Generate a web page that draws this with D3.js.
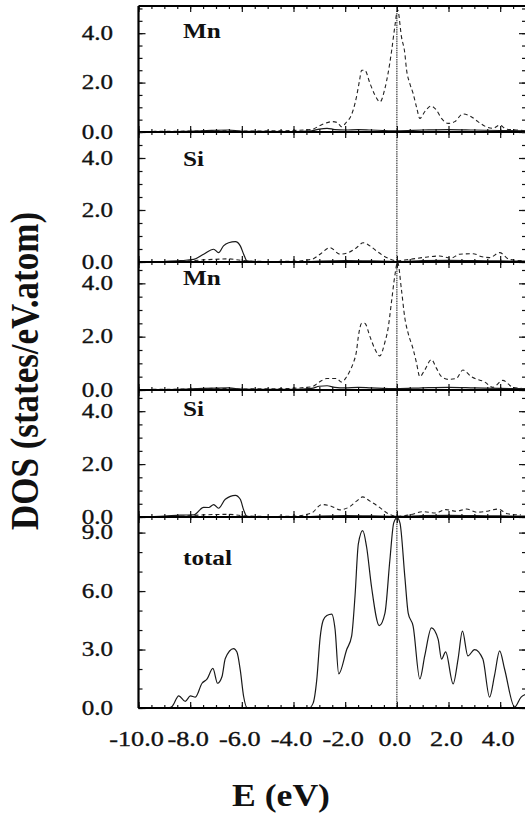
<!DOCTYPE html>
<html>
<head>
<meta charset="utf-8">
<script src="https://cdn.jsdelivr.net/npm/d3@7"></script>
<style>
  body { margin: 0; background: #fff; }
  svg { display: block; }
  text { font-family: "Liberation Serif", "Times New Roman", serif; fill: #111; }
</style>
</head>
<body>
<svg id="chart" width="525" height="818"></svg>
<script>
// ---- data: [E (eV), DOS] ----
const mn1Sp = [[-10,0],[-8.5,0.02],[-7.5,0.05],[-6.5,0.08],[-6,0.03],[-4,0.02],[-3.3,0.05],[-3.0,0.12],[-2.7,0.15],[-2.4,0.1],[-2.0,0.08],[-1.5,0.1],[-1,0.08],[0,0.05],[1,0.08],[2,0.1],[3,0.08],[4,0.06],[5,0.05]];
const mn1D = [[-10,0.02],[-8.5,0.03],[-7,0.05],[-6,0.04],[-4.5,0.05],[-3.3,0.1],[-3.0,0.25],[-2.78,0.35],[-2.5,0.42],[-2.3,0.38],[-2.14,0.21],[-1.95,0.4],[-1.8,0.6],[-1.69,0.89],[-1.56,1.43],[-1.45,2.05],[-1.36,2.5],[-1.24,2.5],[-1.04,1.97],[-0.85,1.5],[-0.65,1.22],[-0.46,1.77],[-0.34,2.37],[-0.2,3.3],[-0.08,4.25],[0.03,4.95],[0.18,3.85],[0.31,3.18],[0.37,2.57],[0.5,1.97],[0.63,1.56],[0.76,1.02],[0.89,0.55],[1.08,0.82],[1.32,1.05],[1.53,0.89],[1.73,0.55],[1.98,0.35],[2.24,0.42],[2.56,0.73],[2.88,0.62],[3.14,0.42],[3.46,0.21],[3.72,0.15],[3.98,0.28],[4.23,0.12],[4.62,0.08],[5,0.05]];

const si1S = [[-10,0],[-9,0.02],[-8.38,0.05],[-7.86,0.1],[-7.48,0.3],[-7.09,0.49],[-6.9,0.36],[-6.71,0.62],[-6.51,0.74],[-6.25,0.78],[-6.06,0.62],[-5.93,0.3],[-5.8,0.04],[-5.5,0.01],[-3.5,0.01],[-3,0.03],[-2,0.05],[-1,0.04],[0,0.02],[1,0.05],[2,0.06],[3,0.05],[4,0.04],[5,0.03]];
const si1P = [[-10,0],[-8.5,0.02],[-7.5,0.08],[-6.5,0.12],[-6,0.06],[-5,0.02],[-4,0.03],[-3.3,0.1],[-2.97,0.3],[-2.59,0.55],[-2.2,0.3],[-1.88,0.36],[-1.56,0.55],[-1.3,0.74],[-1.04,0.62],[-0.78,0.42],[-0.4,0.17],[0,0.05],[0.5,0.1],[1.0,0.17],[1.66,0.23],[2.1,0.15],[2.43,0.3],[2.95,0.32],[3.3,0.2],[3.6,0.17],[3.98,0.36],[4.36,0.1],[4.86,0.05]];

const mn2Sp = [[-10,0],[-8.5,0.02],[-7.5,0.06],[-6.5,0.08],[-6,0.03],[-4,0.02],[-3.3,0.06],[-3.0,0.14],[-2.7,0.16],[-2.4,0.1],[-2.0,0.08],[-1.5,0.1],[-1,0.08],[0,0.05],[1,0.08],[2,0.1],[3,0.08],[4,0.06],[5,0.05]];
const mn2D = [[-10,0.02],[-8.5,0.03],[-7,0.06],[-6,0.04],[-4.5,0.05],[-3.3,0.12],[-3.0,0.3],[-2.71,0.43],[-2.33,0.43],[-2.14,0.3],[-1.94,0.5],[-1.8,0.75],[-1.69,1.0],[-1.56,1.47],[-1.49,2.0],[-1.36,2.5],[-1.24,2.5],[-1.04,2.0],[-0.85,1.54],[-0.66,1.28],[-0.46,1.8],[-0.34,2.3],[-0.2,3.36],[-0.08,4.27],[0.03,4.8],[0.18,3.75],[0.31,2.7],[0.44,2.12],[0.63,1.54],[0.76,1.02],[0.89,0.5],[1.08,0.75],[1.34,1.14],[1.53,0.82],[1.73,0.5],[1.98,0.4],[2.3,0.43],[2.56,0.75],[2.88,0.5],[3.4,0.3],[3.72,0.1],[4.1,0.36],[4.5,0.1],[5,0.05]];

const si2S = [[-10,0],[-9,0.03],[-8.38,0.07],[-7.86,0.08],[-7.48,0.36],[-7.28,0.36],[-7.09,0.47],[-6.9,0.33],[-6.64,0.67],[-6.25,0.82],[-6.06,0.67],[-5.93,0.27],[-5.8,0.02],[-5.5,0.01],[-3.5,0.01],[-3,0.03],[-2,0.05],[-1,0.04],[0,0.02],[1,0.05],[2,0.06],[3,0.05],[4,0.04],[5,0.03]];
const si2P = [[-10,0],[-8.5,0.02],[-7.5,0.08],[-6.5,0.1],[-6,0.05],[-5,0.02],[-4,0.03],[-3.3,0.15],[-2.91,0.47],[-2.52,0.4],[-2.2,0.27],[-1.81,0.4],[-1.56,0.6],[-1.32,0.76],[-1.04,0.6],[-0.72,0.4],[-0.34,0.13],[0,0.03],[0.5,0.08],[1.0,0.2],[1.5,0.15],[1.9,0.28],[2.3,0.22],[2.7,0.3],[3.1,0.18],[3.5,0.22],[3.9,0.3],[4.3,0.12],[4.8,0.08]];

const total = [[-10,0],[-9,0],[-8.8,0.02],[-8.7,0.08],[-8.44,0.62],[-8.19,0.34],[-7.99,0.62],[-7.8,0.56],[-7.54,1.27],[-7.35,1.48],[-7.12,2.03],[-6.94,1.27],[-6.77,1.6],[-6.64,2.54],[-6.32,3.05],[-6.19,2.87],[-6.06,1.94],[-5.93,0.59],[-5.8,0.02],[-5.6,0],[-3.4,0],[-3.24,0.25],[-3.1,1.44],[-2.97,3.6],[-2.85,4.5],[-2.71,4.74],[-2.52,4.82],[-2.39,4.03],[-2.25,1.75],[-1.94,3.0],[-1.75,3.69],[-1.62,5.72],[-1.49,8.42],[-1.32,9.1],[-1.17,8.26],[-0.98,6.22],[-0.68,4.23],[-0.46,4.87],[-0.27,7.58],[-0.12,9.5],[0.01,9.75],[0.12,9.5],[0.31,6.73],[0.44,4.87],[0.63,4.2],[0.89,1.49],[1.08,2.67],[1.34,4.11],[1.6,3.52],[1.73,2.51],[1.89,2.88],[2.18,1.24],[2.37,2.51],[2.54,3.94],[2.75,2.67],[3.01,3.0],[3.33,2.51],[3.59,0.56],[3.78,1.66],[3.98,2.93],[4.17,2.0],[4.56,0.05],[4.81,0.56],[5,0.7]];

// tick values / labels
const xTickVals = [-10, -8, -6, -4, -2, 0, 2, 4];
const yTicksPart = [0, 2, 4];
const yTicksTotal = [0, 3, 6, 9];
const panelNames = ["Mn", "Si", "Mn", "Si", "total"];

// ---- layout ----
const svg = d3.select("#chart");
const left = 138.5, right = 526, stretch = 1.25;
const x = d3.scaleLinear().domain([-10, 5]).range([left, right]);

const panels = [
  {top: 6,   bottom: 132, max: 5.1, ticks: yTicksPart,  minor: 0.5, labY: 38,  series: [[mn1Sp, null], [mn1D, "4,3"]]},
  {top: 132, bottom: 262, max: 5.0, ticks: yTicksPart,  minor: 0.5, labY: 166, series: [[si1S, null], [si1P, "4,3"]]},
  {top: 262, bottom: 390, max: 4.8, ticks: yTicksPart,  minor: 0.5, labY: 285, series: [[mn2Sp, null], [mn2D, "4,3"]]},
  {top: 390, bottom: 517, max: 4.8, ticks: yTicksPart,  minor: 0.5, labY: 416, series: [[si2S, null], [si2P, "4,3"]]},
  {top: 517, bottom: 708, max: 9.8, ticks: yTicksTotal, minor: 1.0, labY: 565, series: [[total, null]]}
];

// plain hyphen for negatives, like the original figure
const fmt = d => d3.format(".1f")(d).replace("\u2212", "-");
const minorX = d3.range(-10, 5.01, 0.5);

function styleAxis(g) {
  g.select(".domain").remove();
  g.selectAll("line").attr("stroke", "#111").attr("stroke-width", 1.2);
}

// Fermi level line behind everything
svg.append("line")
  .attr("x1", x(0)).attr("x2", x(0))
  .attr("y1", panels[0].top).attr("y2", panels[4].bottom)
  .attr("stroke", "#666").attr("stroke-width", 1.5)
  .attr("stroke-dasharray", "1.5,0.8");

panels.forEach((p, i) => {
  const y = d3.scaleLinear().domain([0, p.max]).range([p.bottom, p.top]);
  const minorY = d3.range(0, p.max + 0.001, p.minor);

  const clipId = "clip" + i;
  svg.append("clipPath").attr("id", clipId)
    .append("rect").attr("x", left).attr("y", p.top - 1)
    .attr("width", right - left).attr("height", p.bottom - p.top + 1);

  const line = d3.line()
    .x(d => x(d[0]))
    .y(d => y(d[1]))
    .curve(d3.curveMonotoneX);

  p.series.forEach(([data, dash]) => {
    svg.append("path")
      .datum(data)
      .attr("clip-path", `url(#${clipId})`)
      .attr("d", line)
      .attr("fill", "none")
      .attr("stroke", dash ? "#222" : "#1a1a1a")
      .attr("stroke-width", dash ? 1.1 : 1.2)
      .attr("stroke-dasharray", dash);
  });

  // y ticks, left (inward) and right (inward)
  svg.append("g").attr("transform", `translate(${left},0)`)
    .call(d3.axisRight(y).tickValues(minorY).tickSize(4).tickFormat(""))
    .call(styleAxis);
  svg.append("g").attr("transform", `translate(${left},0)`)
    .call(d3.axisRight(y).tickValues(p.ticks).tickSize(7).tickFormat(""))
    .call(styleAxis);
  svg.append("g").attr("transform", `translate(${right},0)`)
    .call(d3.axisLeft(y).tickValues(minorY).tickSize(4).tickFormat(""))
    .call(styleAxis);
  svg.append("g").attr("transform", `translate(${right},0)`)
    .call(d3.axisLeft(y).tickValues(p.ticks).tickSize(7).tickFormat(""))
    .call(styleAxis);

  // x ticks on the baseline: up into this panel, down into the next one
  svg.append("g").attr("transform", `translate(0,${p.bottom})`)
    .call(d3.axisTop(x).tickValues(minorX).tickSize(3).tickFormat(""))
    .call(styleAxis);
  svg.append("g").attr("transform", `translate(0,${p.bottom})`)
    .call(d3.axisTop(x).tickValues(xTickVals).tickSize(6).tickFormat(""))
    .call(styleAxis);
  if (i < panels.length - 1) {
    svg.append("g").attr("transform", `translate(0,${p.bottom})`)
      .call(d3.axisBottom(x).tickValues(minorX).tickSize(3).tickFormat(""))
      .call(styleAxis);
    svg.append("g").attr("transform", `translate(0,${p.bottom})`)
      .call(d3.axisBottom(x).tickValues(xTickVals).tickSize(6).tickFormat(""))
      .call(styleAxis);
  }

  // baseline
  svg.append("line")
    .attr("x1", left).attr("x2", right)
    .attr("y1", p.bottom).attr("y2", p.bottom)
    .attr("stroke", "#000").attr("stroke-width", 2.2);

  // y tick labels
  svg.append("g").selectAll("text")
    .data(p.ticks)
    .join("text")
    .attr("transform", d => `translate(113,${y(d) + 6.5}) scale(${stretch},1)`)
    .attr("text-anchor", "end")
    .attr("font-size", 20)
    .attr("stroke", "#111").attr("stroke-width", 0.35)
    .text(d => fmt(d));

  // panel name
  svg.append("text")
    .attr("transform", `translate(183,${p.labY}) scale(1.2,1)`)
    .attr("font-size", 21)
    .attr("font-weight", "bold")
    .text(panelNames[i]);
});

// top frame with downward ticks
svg.append("g").attr("transform", `translate(0,${panels[0].top})`)
  .call(d3.axisBottom(x).tickValues(minorX).tickSize(3).tickFormat(""))
  .call(styleAxis);
svg.append("g").attr("transform", `translate(0,${panels[0].top})`)
  .call(d3.axisBottom(x).tickValues(xTickVals).tickSize(6).tickFormat(""))
  .call(styleAxis);
svg.append("line")
  .attr("x1", left).attr("x2", right)
  .attr("y1", panels[0].top).attr("y2", panels[0].top)
  .attr("stroke", "#000").attr("stroke-width", 2.2);

// left frame (the right one falls just outside the picture)
svg.append("line")
  .attr("x1", left).attr("x2", left)
  .attr("y1", panels[0].top).attr("y2", panels[4].bottom)
  .attr("stroke", "#000").attr("stroke-width", 2.2);

// x tick labels
svg.append("g").selectAll("text")
  .data(xTickVals)
  .join("text")
  .attr("transform", d => `translate(${x(d) - 2},746) scale(${stretch},1)`)
  .attr("text-anchor", "middle")
  .attr("font-size", 21)
  .attr("stroke", "#111").attr("stroke-width", 0.35)
  .text(d => fmt(d));

// axis titles
svg.append("text")
  .attr("transform", `translate(281,806) scale(1.15,1)`)
  .attr("text-anchor", "middle")
  .attr("font-size", 31)
  .attr("font-weight", "bold")
  .text("E (eV)");

svg.append("text")
  .attr("transform", `translate(38,371) scale(1.15,1) rotate(-90)`)
  .attr("text-anchor", "middle")
  .attr("font-size", 35)
  .attr("font-weight", "bold")
  .text("DOS (states/eV.atom)");
</script>
</body>
</html>
